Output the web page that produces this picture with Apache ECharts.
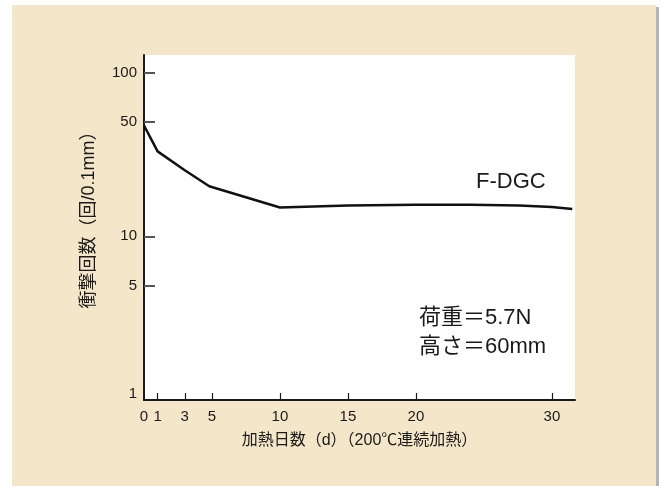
<!DOCTYPE html>
<html><head><meta charset="utf-8">
<script src="https://cdn.jsdelivr.net/npm/echarts@6/dist/echarts.min.js"></script>
<style>html,body{margin:0;padding:0;background:#fff}#c{width:662px;height:486px}</style>
</head><body><div id="c"></div>
<script>
const days = [0, 1, 3, 4.8, 10, 15, 20, 24, 27.6, 30, 31.5];
const impacts = [47.5, 33, 25.3, 20.2, 15.0, 15.4, 15.6, 15.6, 15.4, 15.1, 14.7];
const xTicks = [1, 3, 5, 10, 15, 20, 30];
const xLabels = [0, 1, 3, 5, 10, 15, 20, 30];
const yTicks = [5, 10, 50, 100];
const yLabels = [1, 5, 10, 50, 100];
const seriesName = 'F-DGC';
const noteLines = ['荷重＝5.7N', '高さ＝60mm'];
const xName = '加熱日数（d）（200℃連続加熱）';
const yName = '衝撃回数（回/0.1mm）';

const FONT = '"Liberation Sans","Noto Sans CJK JP",sans-serif';
const lg = v => Math.log10(v);
const chart = echarts.init(document.getElementById('c'), null, {renderer: 'canvas'});
chart.setOption({
  animation: false,
  backgroundColor: '#fff',
  graphic: [
    {type: 'rect', shape: {x: 12, y: 5, width: 644, height: 481}, style: {fill: '#f4e6c8'}, z: -10},
    {type: 'rect', shape: {x: 656, y: 7, width: 3, height: 479}, style: {fill: '#b4b4b4'}, z: -10},
    {type: 'text', left: 476, top: 171, style: {text: seriesName, font: '22px ' + FONT, fill: '#1a1a1a'}},
    {type: 'text', left: 419, top: 303, style: {text: noteLines.join('\n'), font: '22px ' + FONT, lineHeight: 29, fill: '#1a1a1a'}}
  ],
  grid: {left: 144, right: 87, top: 55, bottom: 86, show: true, backgroundColor: '#fff', borderWidth: 0},
  xAxis: {
    type: 'value', min: 0, max: 31.7,
    name: xName, nameLocation: 'middle', nameGap: 33,
    nameTextStyle: {color: '#1a1a1a', fontSize: 16, fontFamily: FONT},
    axisLine: {lineStyle: {color: '#1a1a1a', width: 2}},
    axisTick: {inside: true, length: 7, customValues: xTicks, lineStyle: {color: '#1a1a1a', width: 1.2}},
    axisLabel: {customValues: xLabels, color: '#1a1a1a', fontSize: 15, fontFamily: FONT, margin: 9},
    splitLine: {show: false}
  },
  yAxis: {
    type: 'value', min: 0, max: lg(128),
    name: yName, nameLocation: 'middle', nameGap: 46, nameRotate: 90,
    nameTextStyle: {color: '#1a1a1a', fontSize: 18, fontFamily: FONT, padding: [0, 0, 0, 24]},
    axisLine: {lineStyle: {color: '#1a1a1a', width: 2}},
    axisTick: {inside: true, length: 11, customValues: yTicks.map(lg), lineStyle: {color: '#555', width: 2}},
    axisLabel: {customValues: yLabels.map(lg), color: '#1a1a1a', fontSize: 15, fontFamily: FONT, margin: 7,
      formatter: v => { const n = Math.round(Math.pow(10, v)); return n === 1 ? '{lo|1}' : String(n); },
      rich: {lo: {fontSize: 15, fontFamily: FONT, color: '#1a1a1a', padding: [0, 0, 12, 0]}}},
    splitLine: {show: false}
  },
  series: [{
    type: 'line', name: seriesName, showSymbol: false,
    data: days.map((d, i) => [d, lg(impacts[i])]),
    lineStyle: {color: '#111', width: 2.5}
  }]
});
</script></body></html>
